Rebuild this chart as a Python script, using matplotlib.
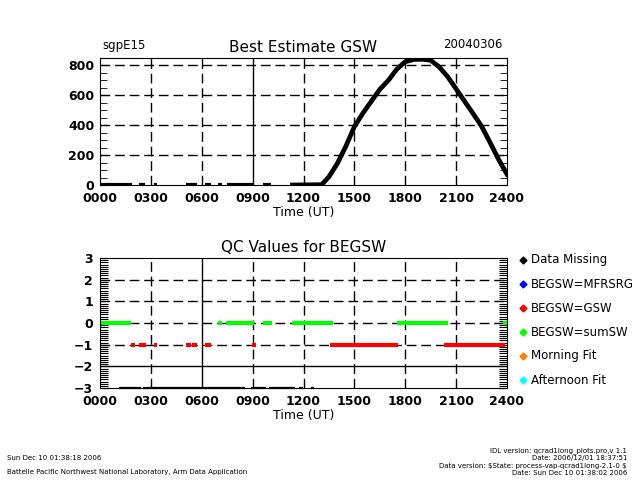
import matplotlib
matplotlib.use('Agg')
from matplotlib import pyplot as plt
from matplotlib.lines import Line2D
from matplotlib.ticker import MultipleLocator

plt.rcParams['font.family'] = ['DejaVu Sans']

# Best estimate GSW (W/m2), daytime curve
day_hours = [11.35, 13.07, 13.5, 14.0, 14.5, 15.0, 15.5, 16.0, 16.5, 17.0, 17.5,
             18.0, 18.5, 19.0, 19.5, 20.0, 20.5, 21.0, 21.5, 22.0, 22.5, 23.0,
             23.5, 24.0]
day_gsw = [0, 2, 55, 145, 260, 390, 480, 560, 640, 700, 775,
           825, 840, 842, 835, 790, 725, 643, 560, 478, 393, 285,
           172, 72]
# night time pieces of the record (value ~0)
night_segments = [(0.0, 1.87), (2.3, 2.65), (3.2, 3.35), (5.1, 5.7), (6.2, 6.55),
                  (6.96, 7.2), (7.5, 9.0), (9.6, 10.1)]

# QC flags, as time spans (hours)
qc_missing = [(1.1, 2.44), (2.54, 8.53), (8.92, 9.81), (9.97, 11.48),
              (11.73, 11.97), (12.42, 12.62)]
qc_gsw = [(1.81, 2.04), (2.3, 2.69), (3.18, 3.36), (5.05, 5.35), (5.42, 5.74),
          (6.21, 6.57), (8.96, 9.18), (13.56, 17.59), (20.3, 23.88)]
qc_sumsw = [(0.0, 1.85), (6.96, 7.19), (7.45, 9.06), (9.61, 10.14),
            (11.32, 13.72), (17.49, 20.54), (23.74, 24.0)]

hour_ticks = list(range(0, 25, 3))
hour_labels = ['%02d00' % h for h in hour_ticks]

legend_names = ['Data Missing', 'BEGSW=MFRSRG', 'BEGSW=GSW', 'BEGSW=sumSW',
                'Morning Fit', 'Afternoon Fit']
legend_colors = ['black', '#0000ff', '#ff0000', '#00ff00', '#ff8000', '#00ffff']

dash = (0, (7, 3.5))

fig = plt.figure(figsize=(6.4, 4.8), dpi=100)
ax1 = fig.add_axes([100/640, 1-185/480, 407/640, 127/480])
ax2 = fig.add_axes([100/640, 1-388/480, 407/640, 130/480])

def setup_x(ax):
    ax.set_xlim(0, 24)
    ax.set_xticks(hour_ticks)
    ax.set_xticklabels(hour_labels, fontsize=9, fontweight='bold')
    ax.tick_params(axis='x', length=0, pad=5)
    ax.set_xlabel('Time (UT)', fontsize=9, labelpad=1)

# ---- top panel ----
for a, b in night_segments:
    ax1.plot([a, b], [0, 0], color='black', lw=3, solid_capstyle='butt')
ax1.plot(day_hours, day_gsw, color='black', lw=3.4)
ax1.set_ylim(0, 850)
setup_x(ax1)
ax1.set_yticks([0, 200, 400, 600, 800])
ax1.set_yticklabels(['0', '200', '400', '600', '800'], fontsize=9, fontweight='bold')
ax1.yaxis.set_minor_locator(MultipleLocator(50))
ax1.tick_params(axis='y', which='major', direction='in', length=5, left=True, right=True, pad=4)
ax1.tick_params(axis='y', which='minor', direction='in', length=5, left=True, right=True)
for v in [200, 400, 600, 800]:
    ax1.axhline(v, color='black', lw=1, ls=dash)
for h in [3, 6, 12, 15, 18, 21]:
    ax1.axvline(h, color='black', lw=1, ls=dash)
ax1.axvline(9, color='black', lw=1)
ax1.set_title('Best Estimate GSW', fontsize=11, pad=4)
fig.text(102/640, 1-45/480, 'sgpE15', fontsize=8.5, ha='left', va='center')
fig.text(502/640, 1-45/480, '20040306', fontsize=8.5, ha='right', va='center')

# ---- bottom panel ----
for a, b in qc_missing:
    ax2.plot([a, b], [-3, -3], color='black', lw=1.6, solid_capstyle='butt', clip_on=False)
for a, b in qc_gsw:
    ax2.plot([a, b], [-1, -1], color='#ff0000', lw=3, solid_capstyle='butt')
for a, b in qc_sumsw:
    ax2.plot([a, b], [0, 0], color='#00ff00', lw=3, solid_capstyle='butt')
ax2.set_ylim(-3, 3)
setup_x(ax2)
ax2.set_yticks(range(-3, 4))
ax2.set_yticklabels(['\u22123', '\u22122', '\u22121', '0', '1', '2', '3'], fontsize=9, fontweight='bold')
ax2.yaxis.set_minor_locator(MultipleLocator(0.1))
ax2.tick_params(axis='y', which='major', direction='in', length=6, left=True, right=True, pad=5)
ax2.tick_params(axis='y', which='minor', direction='in', length=6, left=True, right=True, width=0.8)
for v in [2, 1, 0, -1]:
    ax2.axhline(v, color='black', lw=1, ls=dash, zorder=1)
ax2.axhline(-2, color='black', lw=1, zorder=1)
for h in [3, 9, 12, 15, 18, 21]:
    ax2.axvline(h, color='black', lw=1, ls=dash, zorder=1)
ax2.axvline(6, color='black', lw=1, zorder=1)
ax2.set_title('QC Values for BEGSW', fontsize=11, pad=4)

# legend on the right
for i, (name, col) in enumerate(zip(legend_names, legend_colors)):
    y = 1 - (260 + 24*i)/480
    fig.add_artist(Line2D([523/640], [y], marker='D', markersize=3.5, color=col,
                          transform=fig.transFigure))
    fig.text(531/640, y, name, fontsize=8.5, ha='left', va='center')

# footer
fig.text(7/640, 1-458/480, 'Sun Dec 10 01:38:18 2006', fontsize=5, va='center')
fig.text(7/640, 1-472/480, 'Battelle Pacific Northwest National Laboratory, Arm Data Application',
         fontsize=5, va='center')
right_lines = ['IDL version: qcrad1long_plots.pro,v 1.1',
               'Date: 2006/12/01 18:37:51',
               'Data version: \\$State: process-vap-qcrad1long-2.1-0 \\$',
               'Date: Sun Dec 10 01:38:02 2006']
for i, s in enumerate(right_lines):
    fig.text(627/640, 1-(451 + 7.4*i)/480, s, fontsize=5, ha='right', va='center')

fig.savefig('out.png', dpi=100)
